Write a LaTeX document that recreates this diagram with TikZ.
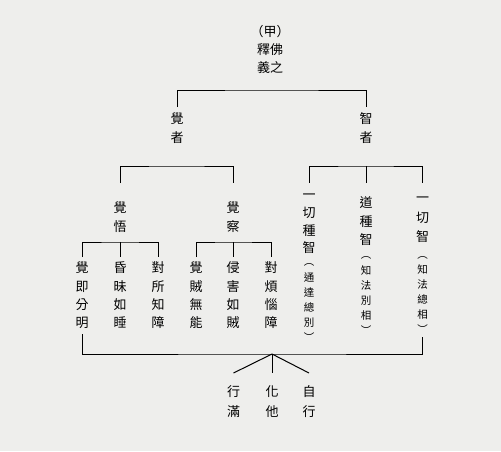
\documentclass[tikz,border=0pt]{standalone}
\usepackage{fontspec}
\newfontfamily\cjk{Noto Sans CJK TC}
\definecolor{bgcol}{RGB}{238,238,236}
\newcommand\Zs{\rule[-0.12em]{0pt}{1em}}
\begin{document}
\begin{tikzpicture}[x=1pt,y=-1pt,
  txt/.style={font=\cjk\fontsize{13}{#1}\selectfont, align=center, inner sep=0pt, anchor=center},
  sm/.style={font=\cjk\fontsize{10.5}{#1}\selectfont, align=center, inner sep=0pt, anchor=center},
  ln/.style={line width=1pt, black}]
\fill[bgcol] (0,0) rectangle (501,451);
\useasboundingbox (0,0) rectangle (501,451);
% title
\node[txt=18] (title) at (270,50) {\Zs（甲）\\釋佛\\義之\Zs};
% level 1
\node[txt=19, outer ysep=5.5pt] (jz) at (177,128.5) {\Zs 覺\\者\Zs};
\node[txt=19, outer ysep=5.5pt] (zz) at (366,128.5) {\Zs 智\\者\Zs};
% level 2
\node[txt=19, outer ysep=18.5pt] (jw) at (120,217.5) {\Zs 覺\\悟\Zs};
\node[txt=19, outer ysep=18.5pt] (jc) at (233,217.5) {\Zs 覺\\察\Zs};
\node[txt=17.7, outer ysep=5.5pt] (r1) at (309,221.5) {\Zs 一\\切\\種\\智\Zs};
\node[txt=18.5, outer ysep=13.5pt] (r2) at (366,221.5) {\Zs 道\\種\\智\Zs};
\node[txt=19.5, outer ysep=8.5pt] (r3) at (422.5,217.5) {\Zs 一\\切\\智\Zs};
\node[sm=15.2] (r1p) at (309,300) {\Zs ︵\\通\\達\\總\\別\\︶\Zs};
\node[sm=15.2] (r2p) at (366,293) {\Zs ︵\\知\\法\\別\\相\\︶\Zs};
\node[sm=15, outer ysep=1.5pt] (r3p) at (422.5,292.5) {\Zs ︵\\知\\法\\總\\相\\︶\Zs};
% leaves
\node[txt=18.33, outer ysep=4.5pt] (l1) at (82,295.5) {\Zs 覺\\即\\分\\明\Zs};
\node[txt=18.33, outer ysep=4.5pt] (l2) at (120,295.5) {\Zs 昏\\昧\\如\\睡\Zs};
\node[txt=18.33, outer ysep=4.5pt] (l3) at (158,295.5) {\Zs 對\\所\\知\\障\Zs};
\node[txt=18.33, outer ysep=4.5pt] (l4) at (196,295.5) {\Zs 覺\\賊\\無\\能\Zs};
\node[txt=18.33, outer ysep=4.5pt] (l5) at (233,295.5) {\Zs 侵\\害\\如\\賊\Zs};
\node[txt=18.33, outer ysep=4.5pt] (l6) at (271,295.5) {\Zs 對\\煩\\惱\\障\Zs};
% bottom
\node[txt=20, outer ysep=12.5pt] (b1) at (233.5,402) {\Zs 行\\滿\Zs};
\node[txt=20, outer ysep=12.5pt] (b2) at (272,402) {\Zs 化\\他\Zs};
\node[txt=20, outer ysep=12.5pt] (b3) at (309,402) {\Zs 自\\行\Zs};
% junctions
\coordinate (t1) at (271.5,90);
\coordinate (t2) at (176.5,166);
\coordinate (t3) at (366,166);
\coordinate (t4) at (120,242);
\coordinate (t5) at (233,242);
\coordinate (t6) at (272,354);
% connectors
\draw[ln] (jz.north) |- (t1) -| (zz.north);
\draw[ln] (jw.north) |- (t2) -| (jc.north);
\draw[ln] (r1.north) |- (t3) -| (r3.north);
\draw[ln] (t3) -- (r2.north);
\draw[ln] (l1.north) |- (t4) -| (l3.north);
\draw[ln] (t4) -- (l2.north);
\draw[ln] (l4.north) |- (t5) -| (l6.north);
\draw[ln] (t5) -- (l5.north);
\draw[ln] (l1.south) |- (t6) -| (r3p.south);
\draw[ln] (t6) -- (b1.north);
\draw[ln] (t6) -- (b2.north);
\draw[ln] (t6) -- (b3.north);
\end{tikzpicture}
\end{document}
